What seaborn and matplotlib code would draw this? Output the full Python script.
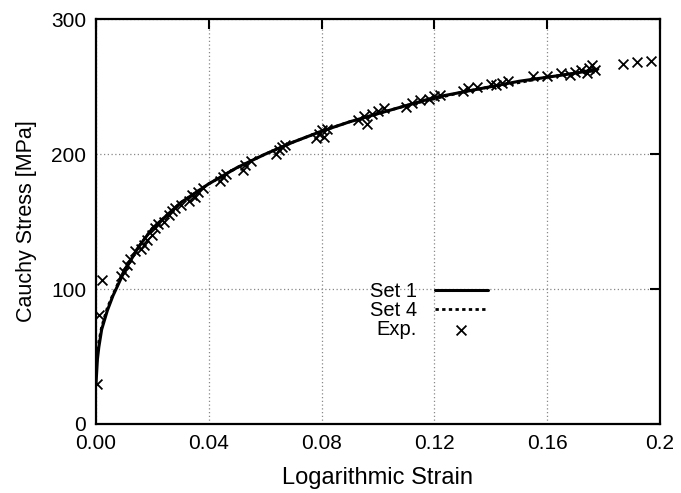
import numpy as np
import pandas as pd
import matplotlib
matplotlib.use('Agg')
import matplotlib.pyplot as plt
import seaborn as sns

# ---- data ----
strain_fit = [0.0, 0.0005, 0.001, 0.002, 0.004, 0.006, 0.008, 0.010, 0.015, 0.020,
              0.030, 0.040, 0.050, 0.060, 0.070, 0.080, 0.090, 0.100, 0.110, 0.120,
              0.130, 0.140, 0.150, 0.160, 0.170, 0.178]
stress_set1 = [30, 48, 57, 70, 84, 95, 104, 113, 131, 145,
               164, 178, 190, 200, 209, 217, 224, 230, 236, 242,
               246, 250, 254, 257, 260, 263]
stress_set4 = [40, 53, 61, 72, 86, 96, 105, 114, 131, 145,
               164, 178, 190, 200, 209, 217, 224, 230, 236, 241,
               246, 250, 253, 257, 260, 262]

exp_strain = [0.0005, 0.001, 0.002, 0.009, 0.010, 0.011, 0.012, 0.014, 0.016, 0.017,
              0.018, 0.020, 0.021, 0.022, 0.024, 0.026, 0.027, 0.028, 0.030, 0.033,
              0.034, 0.035, 0.036, 0.038, 0.044, 0.045, 0.046, 0.052, 0.053, 0.055,
              0.064, 0.065, 0.066, 0.067, 0.078, 0.079, 0.080, 0.081, 0.082, 0.093,
              0.095, 0.096, 0.098, 0.100, 0.102, 0.110, 0.112, 0.115, 0.118, 0.120,
              0.122, 0.130, 0.132, 0.135, 0.140, 0.142, 0.144, 0.146, 0.155, 0.160,
              0.165, 0.168, 0.170, 0.172, 0.174, 0.175, 0.176, 0.177, 0.187, 0.192,
              0.197]
exp_stress = [30, 81, 107, 110, 113, 118, 122, 128, 130, 133,
              136, 140, 145, 148, 150, 155, 158, 160, 162, 165,
              170, 168, 172, 175, 180, 183, 185, 188, 192, 195,
              200, 203, 205, 207, 212, 215, 218, 213, 219, 225,
              228, 222, 230, 232, 234, 235, 238, 240, 241, 243,
              244, 247, 249, 250, 252, 251, 253, 254, 258, 258,
              260, 259, 261, 262, 260, 264, 266, 262, 267, 268,
              269]

x_ticks = [0.0, 0.04, 0.08, 0.12, 0.16, 0.2]
x_tick_labels = ['0.00', '0.04', '0.08', '0.12', '0.16', '0.2']
y_ticks = [0, 100, 200, 300]

fit = pd.DataFrame({'strain': strain_fit, 'set1': stress_set1, 'set4': stress_set4})
exp = pd.DataFrame({'strain': exp_strain, 'stress': exp_stress})

sns.set_style('white')
plt.rcParams['font.family'] = ['Liberation Sans', 'DejaVu Sans']
plt.rcParams['text.color'] = 'black'
plt.rcParams['axes.labelcolor'] = 'black'
plt.rcParams['xtick.color'] = 'black'
plt.rcParams['ytick.color'] = 'black'

fig, ax = plt.subplots(figsize=(6.81, 4.93), dpi=100)
fig.subplots_adjust(left=0.141, right=0.969, top=0.961, bottom=0.140)

sns.lineplot(data=fit, x='strain', y='set1', ax=ax, color='black', lw=2.2,
             label='Set 1')
sns.lineplot(data=fit, x='strain', y='set4', ax=ax, color='black', lw=2.0,
             linestyle=(0, (1.2, 1.2)), label='Set 4')
sns.scatterplot(data=exp, x='strain', y='stress', ax=ax, marker='x', color='black',
                s=50, linewidth=1.3, label='Exp.', zorder=3)

ax.set_xlim(0, 0.2)
ax.set_ylim(0, 300)
ax.set_xticks(x_ticks)
ax.set_xticklabels(x_tick_labels)
ax.set_yticks(y_ticks)
ax.grid(True, color='#888888', linestyle=(0, (1, 2)), linewidth=0.9)
ax.tick_params(direction='in', length=7, width=1.5, top=True, right=True,
               labelsize=15, pad=7)
for sp in ax.spines.values():
    sp.set_linewidth(1.6)
    sp.set_color('black')

ax.set_xlabel('Logarithmic Strain', fontsize=17, labelpad=10)
ax.set_ylabel('Cauchy Stress [MPa]', fontsize=15.5, labelpad=10)

ax.legend(loc='center', bbox_to_anchor=(0.59, 0.28), frameon=False, markerfirst=False,
          fontsize=14.5, handlelength=2.6, labelspacing=0.0, handletextpad=0.9)

fig.savefig('out.png', dpi=100)
